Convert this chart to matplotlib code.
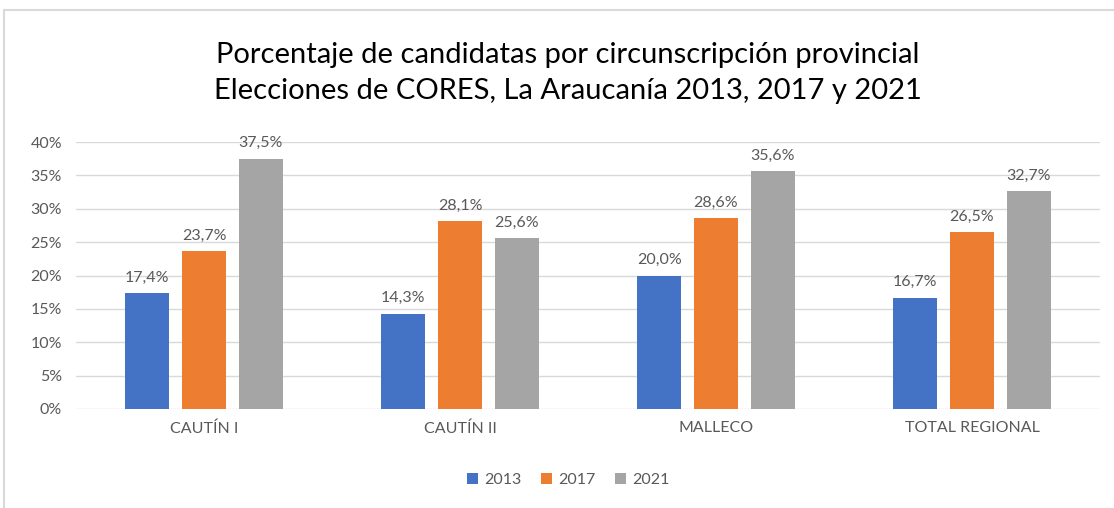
import numpy as np
import matplotlib.pyplot as plt
from matplotlib.patches import Rectangle

plt.rcParams['font.family'] = ['Lato', 'DejaVu Sans']

categorias = ["CAUTÍN I", "CAUTÍN II", "MALLECO", "TOTAL REGIONAL"]
anios = ["2013", "2017", "2021"]
v2013 = [17.4, 14.3, 20.0, 16.7]
v2017 = [23.7, 28.1, 28.6, 26.5]
v2021 = [37.5, 25.6, 35.6, 32.7]
colores = ["#4472C4", "#ED7D31", "#A5A5A5"]
gris = "#595959"

W, H = 1114, 508
fig = plt.figure(figsize=(W / 100, H / 100), dpi=100)
# chart border
fig.patches.append(Rectangle((4 / W, -0.1), 1.2, 1 - 10 / H + 0.1, transform=fig.transFigure,
                             fill=False, edgecolor="#D9D9D9", linewidth=1.5))

ax = fig.add_axes([76 / W, 1 - 409 / H, (1100 - 76) / W, (409 - 142) / H])
x = np.arange(len(categorias))
ancho = 0.172
paso = 0.222
for i, (serie, nombre) in enumerate(zip([v2013, v2017, v2021], anios)):
    pos = x + (i - 1) * paso
    barras = ax.bar(pos, np.array(serie) / 100, ancho, color=colores[i], label=nombre, zorder=3)
    for b, v in zip(barras, serie):
        ax.annotate(f"{v:.1f}%".replace(".", ","), (b.get_x() + b.get_width() / 2, b.get_height()),
                    xytext=(0, 6), textcoords="offset points", ha="center", va="bottom",
                    fontsize=11.5, color=gris)

ax.set_xlim(-0.5, len(categorias) - 0.5)
ax.set_ylim(0, 0.4)
ax.set_yticks(np.arange(0, 0.41, 0.05))
ax.set_yticklabels([f"{int(round(t * 100))}%" for t in np.arange(0, 0.41, 0.05)])
ax.set_xticks(x)
ax.set_xticklabels(categorias)
ax.tick_params(axis="both", length=0, colors=gris, labelsize=11.5)
ax.tick_params(axis="x", pad=9)
ax.tick_params(axis="y", pad=10)
ax.grid(axis="y", color="#D9D9D9", linewidth=1, zorder=0)
for s in ax.spines.values():
    s.set_visible(False)

fig.text(568 / W, 1 - 73 / H, "Porcentaje de candidatas por circunscripción provincial\nElecciones de CORES, La Araucanía 2013, 2017 y 2021",
         ha="center", va="center", fontsize=21, color="#000000", linespacing=1.45)

fig.legend(loc="center", bbox_to_anchor=(568 / W, 1 - 480 / H), ncol=3, frameon=False,
           fontsize=11.5, labelcolor=gris, handlelength=0.7, handleheight=0.7,
           handletextpad=0.4, columnspacing=1.2)

fig.savefig("out.png", dpi=100)
